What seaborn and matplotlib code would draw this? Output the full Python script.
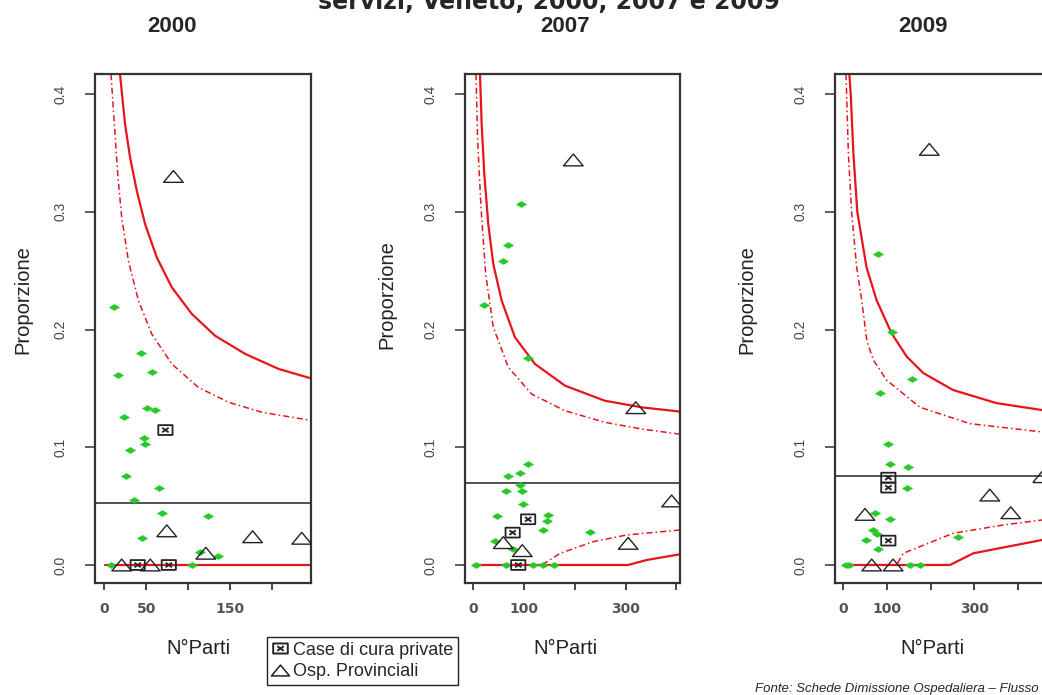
import matplotlib
matplotlib.use("Agg")
import matplotlib.pyplot as plt
from matplotlib.path import Path
from matplotlib.lines import Line2D
from matplotlib import font_manager
import seaborn as sns

# ---- data (N parti vs proporzione) ----
years = ["2000", "2007", "2009"]
overall_p = [0.0529, 0.0694, 0.0756]

# 2000
green00_n = [12, 44, 17, 57, 24, 51, 61, 48, 49, 31, 26, 65, 36, 69, 124, 45, 114, 136, 8, 104]
green00_p = [0.219, 0.180, 0.161, 0.164, 0.126, 0.133, 0.132, 0.108, 0.1025, 0.098, 0.076,
             0.065, 0.055, 0.044, 0.042, 0.023, 0.011, 0.008, 0.0, 0.0]
case00_n = [73, 40, 77]
case00_p = [0.1146, 0.0, 0.0]
prov00_n = [82.5, 74.6, 121, 176.6, 235, 21, 55]
prov00_p = [0.330, 0.029, 0.010, 0.024, 0.0227, 0.0, 0.0]
up99_00_n = [19, 25, 31, 38.9, 48.8, 62.7, 80.6, 104.4, 132, 168, 207.5, 246]
up99_00_p = [0.417, 0.3745, 0.346, 0.318, 0.2896, 0.2613, 0.2358, 0.2132, 0.1947, 0.1792,
             0.1665, 0.1585]
up95_00_n = [8.3, 12.3, 16.3, 21, 29, 40.9, 56.7, 80.6, 112, 148, 187.7, 246]
up95_00_p = [0.417, 0.3745, 0.332, 0.2953, 0.2584, 0.2245, 0.1962, 0.1707, 0.1509, 0.1382,
             0.1297, 0.1228]
lo99_00_n = [1, 246]
lo99_00_p = [0.0, 0.0]
lo95_00_n = [1, 246]
lo95_00_p = [0.0, 0.0]

# 2007
green07_n = [93, 69, 58, 21, 108, 108, 68, 92, 92, 64, 96, 98, 47, 148, 145, 137, 230, 43, 79,
             5, 64, 118, 137, 159]
green07_p = [0.307, 0.272, 0.258, 0.221, 0.176, 0.0855, 0.076, 0.078, 0.068, 0.063, 0.063,
             0.0515, 0.042, 0.0425, 0.037, 0.030, 0.028, 0.020, 0.014, 0.0, 0.0, 0.0, 0.0, 0.0]
case07_n = [108, 77.5, 88.6]
case07_p = [0.0388, 0.0275, 0.0]
prov07_n = [197, 320, 390.5, 305, 59, 96.5]
prov07_p = [0.344, 0.1336, 0.0544, 0.0184, 0.019, 0.0122]
up99_07_n = [13.2, 16.5, 21.7, 29.5, 39.4, 55.9, 82, 121.5, 180.5, 259, 331.5, 407]
up99_07_p = [0.417, 0.3745, 0.332, 0.2896, 0.2556, 0.2245, 0.1934, 0.1707, 0.1523, 0.1395,
             0.1339, 0.1303]
up95_07_n = [5.3, 8.6, 15.2, 24.4, 39.4, 69, 115, 180.5, 259, 331.5, 407]
up95_07_p = [0.417, 0.3604, 0.3038, 0.2471, 0.2019, 0.1679, 0.1452, 0.1310, 0.1212, 0.1155,
             0.1111]
lo99_07_n = [1, 305, 341, 407]
lo99_07_p = [0.0, 0.0, 0.0042, 0.0091]
lo95_07_n = [1, 135, 171, 236, 302, 407]
lo95_07_p = [0.0, 0.0, 0.0099, 0.0198, 0.0255, 0.0297]

# 2009
green09_n = [80, 112, 156, 84, 103, 107, 149, 145, 72.5, 107, 68.6, 76, 51, 80, 263, 6, 12, 152, 175]
green09_p = [0.264, 0.198, 0.158, 0.146, 0.103, 0.086, 0.0835, 0.065, 0.044, 0.039, 0.030,
             0.026, 0.021, 0.0136, 0.0235, 0.0, 0.0, 0.0, 0.0]
case09_n = [103, 103, 103]
case09_p = [0.0742, 0.0657, 0.0207]
prov09_n = [196.6, 335, 383, 456, 49.6, 65, 114]
prov09_p = [0.353, 0.0594, 0.0444, 0.075, 0.043, 0.0, 0.0]
up99_09_n = [13.8, 17, 23, 32, 53, 76, 110, 145, 183, 251, 350, 454, 480]
up99_09_p = [0.417, 0.40, 0.35, 0.30, 0.253, 0.225, 0.197, 0.177, 0.163, 0.1486, 0.1375,
             0.1316, 0.1305]
up95_09_n = [6.2, 11.5, 19, 30.5, 42, 54, 69, 99, 175, 290, 454, 480]
up95_09_p = [0.417, 0.35, 0.30, 0.253, 0.225, 0.190, 0.174, 0.157, 0.134, 0.120, 0.113, 0.1125]
lo99_09_n = [1, 244, 297, 454, 480]
lo99_09_p = [0.0, 0.0, 0.0099, 0.0212, 0.0225]
lo95_09_n = [1, 122, 137, 251, 366, 454, 480]
lo95_09_p = [0.0, 0.0, 0.0099, 0.0269, 0.034, 0.0382, 0.039]

x_limits = [(-10.7, 246), (-16.3, 407), (-19, 475)]
x_ticks = [[0, 50, 100, 150, 200], [0, 100, 200, 300, 400], [0, 100, 200, 300, 400]]
x_ticklabels = [["0", "50", "", "150", ""], ["0", "100", "", "300", ""], ["0", "100", "", "300", ""]]
y_ticks = [0.0, 0.1, 0.2, 0.3, 0.4]

# ---- style ----
sns.set_theme(style="ticks")
available = {f.name for f in font_manager.fontManager.ttflist}
NARROW = "Liberation Sans Narrow" if "Liberation Sans Narrow" in available else "Liberation Sans"
plt.rcParams["font.family"] = ["Liberation Sans", "DejaVu Sans"]

RED = "#e8141c"
GREEN = "#27c927"
EDGE = "#222222"

DIAMOND = Path([(-1, 0), (0, 0.6), (1, 0), (0, -0.6), (-1, 0)],
               [Path.MOVETO, Path.LINETO, Path.LINETO, Path.LINETO, Path.CLOSEPOLY])
TRIANGLE = Path([(-1, -0.6), (1, -0.6), (0, 0.6), (-1, -0.6)],
                [Path.MOVETO, Path.LINETO, Path.LINETO, Path.CLOSEPOLY])
SQUARE_X = Path([(-1, -0.69), (1, -0.69), (1, 0.69), (-1, 0.69), (-1, -0.69),
                 (-0.45, -0.32), (0.45, 0.32), (-0.45, 0.32), (0.45, -0.32)],
                [Path.MOVETO, Path.LINETO, Path.LINETO, Path.LINETO, Path.CLOSEPOLY,
                 Path.MOVETO, Path.LINETO, Path.MOVETO, Path.LINETO])

panels = [
    dict(green=(green00_n, green00_p), case=(case00_n, case00_p), prov=(prov00_n, prov00_p),
         up99=(up99_00_n, up99_00_p), up95=(up95_00_n, up95_00_p),
         lo99=(lo99_00_n, lo99_00_p), lo95=(lo95_00_n, lo95_00_p)),
    dict(green=(green07_n, green07_p), case=(case07_n, case07_p), prov=(prov07_n, prov07_p),
         up99=(up99_07_n, up99_07_p), up95=(up95_07_n, up95_07_p),
         lo99=(lo99_07_n, lo99_07_p), lo95=(lo95_07_n, lo95_07_p)),
    dict(green=(green09_n, green09_p), case=(case09_n, case09_p), prov=(prov09_n, prov09_p),
         up99=(up99_09_n, up99_09_p), up95=(up95_09_n, up95_09_p),
         lo99=(lo99_09_n, lo99_09_p), lo95=(lo95_09_n, lo95_09_p)),
]

W, H = 1042, 695
fig = plt.figure(figsize=(W / 100, H / 100), dpi=100)
fig.patch.set_facecolor("white")

# axes boxes in pixels (left, top, right, bottom)
boxes = [(95, 74, 311, 583), (465, 74, 680, 583), (835, 74, 1051, 583)]
year_pos = [(172, 26), (565, 27), (923, 26)]
ylab_pos = [(23, 300), (387, 295), (747, 300)]
xlab_pos = [(198, 648), (565, 648), (932, 648)]

for i, pan in enumerate(panels):
    l, t, r, b = boxes[i]
    ax = fig.add_axes([l / W, 1 - b / H, (r - l) / W, (b - t) / H])

    # funnel limits
    for key, ls, lw in [("up99", "-", 1.6), ("lo99", "-", 1.6),
                        ("up95", (0, (4, 2, 1, 2)), 1.1), ("lo95", (0, (4, 2, 1, 2)), 1.1)]:
        n, p = pan[key]
        sns.lineplot(x=n, y=p, ax=ax, color=RED, lw=lw, linestyle=ls,
                     sort=False, estimator=None, zorder=2)

    ax.axhline(overall_p[i], color="#333333", lw=1.2, zorder=2)

    gn, gp = pan["green"]
    sns.scatterplot(x=gn, y=gp, ax=ax, marker=DIAMOND, s=52, color=GREEN,
                    edgecolor=GREEN, linewidth=0.4, zorder=3)
    cn, cp = pan["case"]
    sns.scatterplot(x=cn, y=cp, ax=ax, marker=SQUARE_X, s=105, facecolor="none",
                    edgecolor=EDGE, linewidth=1.3, zorder=4)
    pn, pp = pan["prov"]
    sns.scatterplot(x=pn, y=pp, ax=ax, marker=TRIANGLE, s=200, facecolor="none",
                    edgecolor=EDGE, linewidth=1.0, zorder=4)

    ax.set_xlim(*x_limits[i])
    ax.set_ylim(-0.0153, 0.417)
    ax.set_xticks(x_ticks[i])
    ax.set_xticklabels(x_ticklabels[i], fontfamily="DejaVu Sans", fontweight="bold",
                       fontsize=10, color="#555555")
    ax.set_yticks(y_ticks)
    ax.set_yticklabels([f"{v:.1f}" for v in y_ticks], rotation=90, va="center",
                       fontfamily=NARROW, fontsize=10, color="#444444")
    ax.tick_params(axis="x", length=5, width=1.4, pad=9, color="#444444")
    ax.tick_params(axis="y", length=7, width=1.2, pad=13, color="#444444")
    ax.set_xlabel("")
    ax.set_ylabel("")
    for sp in ax.spines.values():
        sp.set_visible(True)
        sp.set_color("#333333")
        sp.set_linewidth(1.6)

    fig.text(year_pos[i][0] / W, 1 - year_pos[i][1] / H, years[i], ha="center", va="center",
             fontfamily=NARROW, fontweight="bold", fontsize=16)
    fig.text(ylab_pos[i][0] / W, 1 - ylab_pos[i][1] / H, "Proporzione", rotation=90,
             ha="center", va="center", fontsize=14.5, color="#222222")
    fig.text(xlab_pos[i][0] / W, 1 - xlab_pos[i][1] / H, "N°Parti", ha="center", va="center",
             fontsize=14.5, color="#222222")

# main title, cut off at the top of the screenshot
fig.text(549 / W, 1 - 9 / H, "servizi, Veneto, 2000, 2007 e 2009", ha="center",
         va="baseline", fontfamily="DejaVu Sans", fontweight="bold", fontsize=17)

# legend
handles = [
    Line2D([], [], ls="none", marker=SQUARE_X, markersize=10.5, markerfacecolor="none",
           markeredgecolor=EDGE, markeredgewidth=1.4),
    Line2D([], [], ls="none", marker=TRIANGLE, markersize=13, markerfacecolor="none",
           markeredgecolor=EDGE, markeredgewidth=1.1),
]
leg = fig.legend(handles, ["Case di cura private", "Osp. Provinciali"],
                 loc="upper left", bbox_to_anchor=(267 / W, 1 - 637 / H),
                 frameon=True, fancybox=False, edgecolor="#222222", framealpha=1,
                 borderpad=0.25, handlelength=0.9, handletextpad=0.3, labelspacing=0.25,
                 borderaxespad=0, prop={"family": NARROW, "size": 13})
leg.get_frame().set_linewidth(1.0)

fig.text(755 / W, 1 - 692 / H, "Fonte: Schede Dimissione Ospedaliera – Flusso Regionale",
         ha="left", va="baseline", fontfamily=NARROW, fontstyle="italic", fontsize=9.5)

fig.savefig("out.png", dpi=100)
